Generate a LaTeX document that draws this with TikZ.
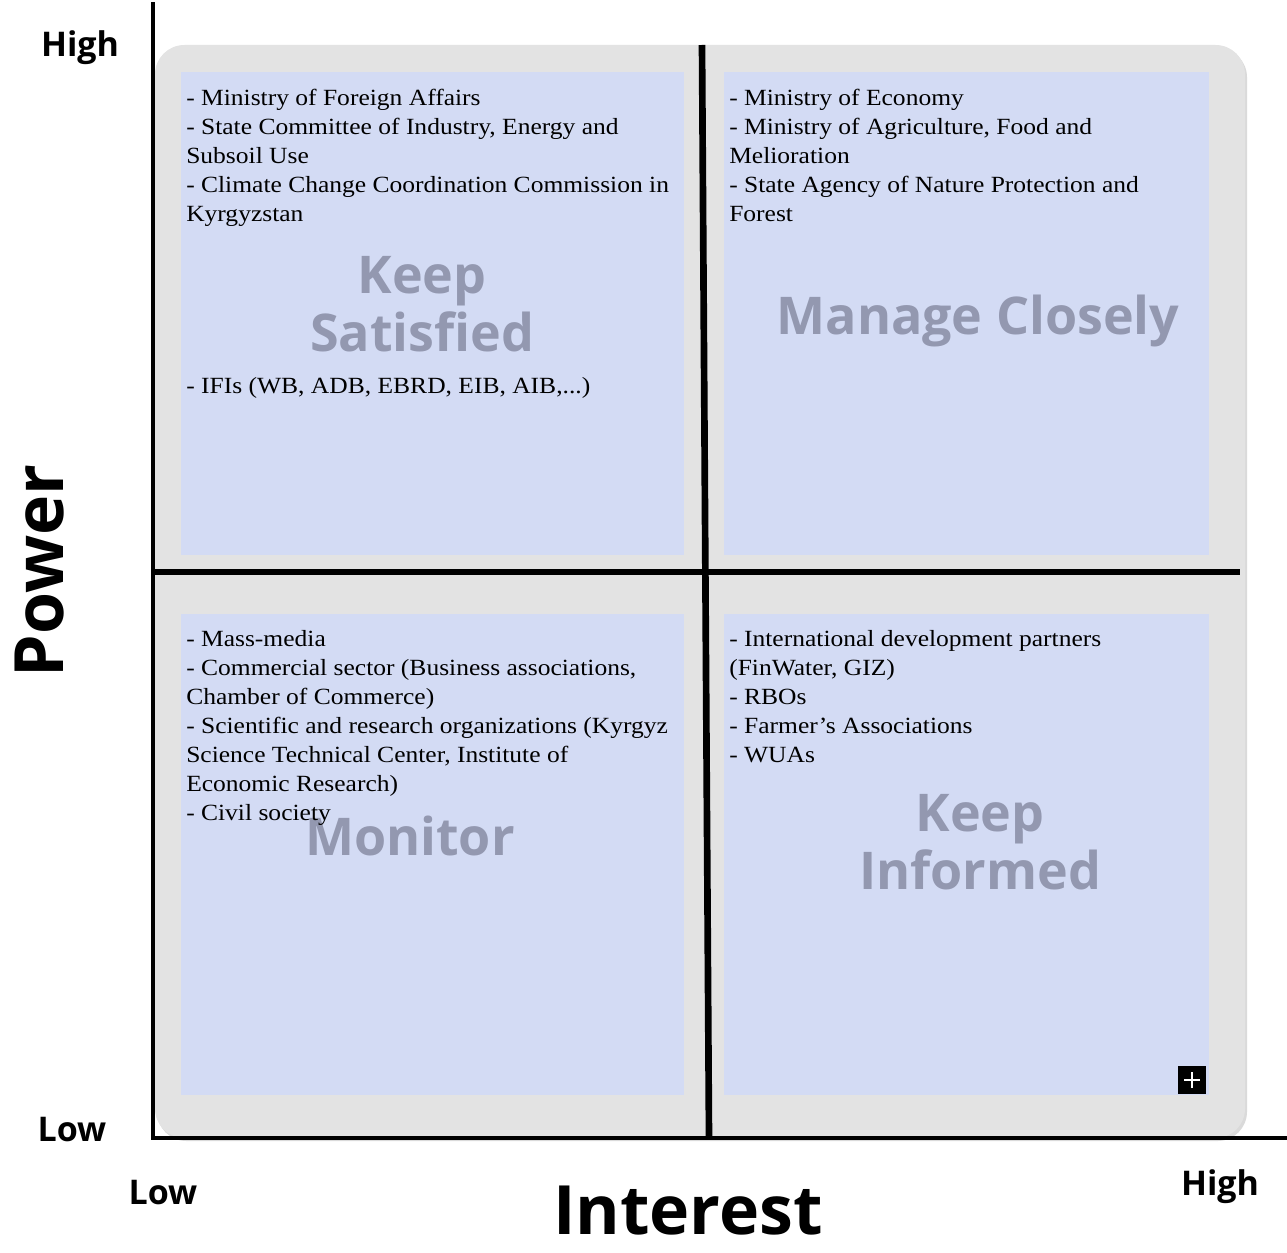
\documentclass[tikz,border=0pt]{standalone}
\usepackage{fontspec}
\setmainfont{Liberation Serif}[FakeStretch=1.1]
\newfontfamily\labfont{Open Sans}
\definecolor{qblue}{HTML}{D3DBF4}
\definecolor{qgray}{HTML}{E3E3E3}
\definecolor{qshadow}{HTML}{DADADA}
\definecolor{biglab}{HTML}{9398B0}
\begin{document}
\begin{tikzpicture}[x=0.75pt,y=-0.75pt,
  listtext/.style={anchor=north west, inner sep=0pt, align=left,
    font=\fontsize{17.4}{21.8}\selectfont},
  quadlabel/.style={text=biglab, align=center, inner sep=0pt,
    font=\labfont\bfseries\fontsize{39}{43.5}\selectfont},
  axlab/.style={inner sep=0pt, font=\labfont\bfseries\fontsize{25.5}{28}\selectfont},
  axtitle/.style={inner sep=0pt, font=\labfont\bfseries\fontsize{51}{55}\selectfont},
  axisline/.style={line width=3pt, line cap=rect},
  divider/.style={line width=5pt}]
\useasboundingbox (0,0) rectangle (1287,1252);
% background panel with shadow
\fill[qshadow, rounded corners=22pt] (157,48) rectangle (1247,1141);
\fill[qgray, rounded corners=22pt] (155,45) rectangle (1245,1138);
% quadrants
\fill[qblue] (181,72) rectangle (684,555);
\fill[qblue] (724,72) rectangle (1209,555);
\fill[qblue] (181,614) rectangle (684,1095);
\fill[qblue] (724,614) rectangle (1209,1095);
% big labels
\node[quadlabel] (ks) at (422,304) {Keep\\Satisfied};
\node[quadlabel] (mc) at (978,321) {Manage Closely};
\node[quadlabel] (mo) at (410,836) {Monitor};
\node[quadlabel] (ki) at (980,842) {Keep\\Informed};
% lists
\node[listtext] (tl) at (186,89) {- Ministry of Foreign Affairs\\
- State Committee of Industry, Energy and\\
Subsoil Use\\
- Climate Change Coordination Commission in\\
Kyrgyzstan};
\node[listtext] (tl2) at (186,377) {- IFIs (WB, ADB, EBRD, EIB, AIB,...)};
\node[listtext] (tr) at (729,89) {- Ministry of Economy\\
- Ministry of Agriculture, Food and\\
Melioration\\
- State Agency of Nature Protection and\\
Forest};
\node[listtext] (bl) at (186,630) {- Mass-media\\
- Commercial sector (Business associations,\\
Chamber of Commerce)\\
- Scientific and research organizations (Kyrgyz\\
Science Technical Center, Institute of\\
Economic Research)\\
- Civil society};
\node[listtext] (br) at (729,630) {- International development partners\\
(FinWater, GIZ)\\
- RBOs\\
- Farmer's Associations\\
- WUAs};
% plus icon
\node[fill=black, minimum size=21pt, inner sep=0pt] (plus) at (1192,1080) {};
\draw[white, line width=1.5pt] ([xshift=-6pt]plus.center) -- ([xshift=6pt]plus.center);
\draw[white, line width=1.5pt] ([yshift=-6pt]plus.center) -- ([yshift=6pt]plus.center);
% dividers
\coordinate (vt) at (702,45);
\coordinate (vb) at (709,1138);
\coordinate (hl) at (153,572);
\coordinate (hr) at (1240,572);
\draw[divider] (vt) -- (vb);
\draw[divider] (hl) -- (hr);
% axes
\coordinate (yt) at (153,4);
\coordinate (org) at (153,1138);
\coordinate (xr) at (1287,1138);
\draw[axisline] (yt) -- (org) -- (xr);
% axis labels
\node[axlab] (phigh) at (80,48) {High};
\node[axlab] (plow) at (72,1130) {Low};
\node[axlab] (ilow) at (163,1193) {Low};
\node[axlab] (ihigh) at (1220,1187) {High};
\node[axtitle, rotate=90] (power) at (40,571) {Power};
\node[axtitle] (interest) at (688,1211) {Interest};
\end{tikzpicture}
\end{document}
